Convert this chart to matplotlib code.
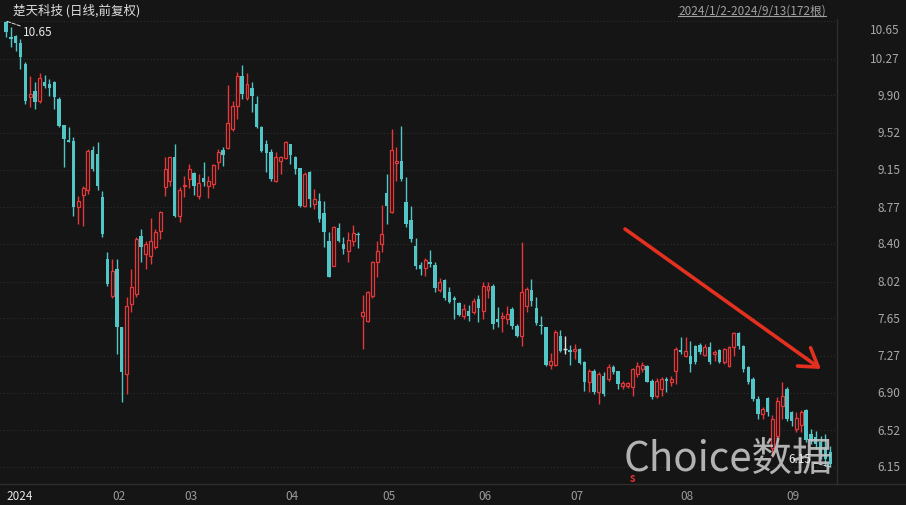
import matplotlib
matplotlib.use('Agg')
import matplotlib.pyplot as plt
from matplotlib.lines import Line2D
from matplotlib.transforms import blended_transform_factory

plt.rcParams['font.family'] = ['Noto Sans CJK SC', 'DejaVu Sans']

# daily OHLC, 2024-01-02 .. 2024-09-13 (172 bars)
opens = [10.64, 10.49, 10.50, 10.43, 10.22, 9.88, 9.94, 9.84, 10.03, 10.01,
         10.03, 9.86, 9.60, 9.45, 9.44, 8.77, 8.89, 8.94, 9.35, 9.31,
         8.87, 8.25, 7.88, 8.15, 7.56, 7.09, 7.79, 7.90, 8.48, 8.30,
         8.28, 8.37, 8.53, 8.97, 9.04, 9.28, 8.68, 8.98, 9.06, 9.12,
         8.88, 9.07, 8.99, 9.01, 9.23, 9.35, 9.37, 9.56, 9.79, 10.09,
         9.87, 9.97, 9.81, 9.58, 9.41, 9.33, 9.04, 9.24, 9.27, 9.41,
         9.28, 9.17, 8.78, 9.13, 8.80, 8.83, 8.71, 8.43, 8.18, 8.56,
         8.40, 8.33, 8.43, 8.50, 7.67, 7.62, 7.87, 8.22, 8.40, 8.91,
         8.72, 9.22, 9.24, 8.82, 8.64, 8.38, 8.19, 8.16, 8.22, 8.19,
         7.94, 8.04, 7.92, 7.85, 7.80, 7.67, 7.72, 7.71, 7.84, 7.72,
         7.94, 7.98, 7.64, 7.65, 7.64, 7.74, 7.57, 7.47, 7.77, 7.94,
         7.75, 7.58, 7.56, 7.18, 7.18, 7.47, 7.34, 7.33, 7.32, 7.34,
         7.21, 7.01, 7.12, 6.91, 7.07, 7.04, 7.16, 7.12, 6.97, 6.97,
         6.96, 7.09, 7.14, 7.17, 7.02, 6.87, 6.94, 7.04, 7.01, 7.12,
         7.33, 7.27, 7.27, 7.37, 7.38, 7.28, 7.36, 7.29, 7.33, 7.21,
         7.17, 7.36, 7.50, 7.37, 7.16, 7.04, 6.84, 6.68, 6.85, 6.34,
         6.46, 6.76, 6.94, 6.70, 6.53, 6.57, 6.72, 6.48, 6.45, 6.40,
         6.33, 6.30]
highs = [10.65, 10.59, 10.51, 10.47, 10.24, 10.10, 10.03, 10.13, 10.11, 10.06,
         10.04, 9.88, 9.60, 9.58, 9.48, 8.88, 8.99, 9.36, 9.39, 9.43,
         8.93, 8.32, 8.25, 8.25, 7.56, 7.86, 8.15, 8.47, 8.55, 8.43,
         8.66, 8.55, 8.73, 9.28, 9.28, 9.41, 8.97, 9.09, 9.21, 9.13,
         9.11, 9.23, 9.09, 9.21, 9.36, 9.38, 10.00, 9.84, 10.14, 10.21,
         10.13, 10.03, 9.89, 9.59, 9.45, 9.36, 9.33, 9.29, 9.44, 9.41,
         9.29, 9.17, 9.13, 9.14, 8.95, 8.91, 8.83, 8.52, 8.58, 8.61,
         8.47, 8.52, 8.59, 8.52, 7.89, 7.93, 8.23, 8.43, 8.79, 9.11,
         9.56, 9.38, 9.59, 9.08, 8.78, 8.46, 8.22, 8.26, 8.34, 8.22,
         8.06, 8.05, 7.97, 7.88, 7.81, 7.79, 7.78, 7.85, 7.89, 8.02,
         8.02, 8.00, 7.76, 7.71, 7.77, 7.76, 7.59, 8.42, 7.97, 8.05,
         7.86, 7.67, 7.56, 7.30, 7.53, 7.53, 7.47, 7.38, 7.39, 7.35,
         7.22, 7.14, 7.14, 7.11, 7.11, 7.19, 7.18, 7.12, 7.02, 7.01,
         7.15, 7.21, 7.21, 7.18, 7.04, 7.05, 7.06, 7.06, 7.07, 7.36,
         7.46, 7.46, 7.42, 7.38, 7.40, 7.39, 7.41, 7.33, 7.34, 7.35,
         7.37, 7.51, 7.51, 7.38, 7.17, 7.06, 6.87, 6.75, 6.86, 6.67,
         6.86, 7.01, 6.96, 6.71, 6.70, 6.72, 6.73, 6.53, 6.51, 6.46,
         6.48, 6.36]
lows = [10.49, 10.39, 10.35, 10.17, 9.81, 9.78, 9.76, 9.82, 9.97, 9.89,
        9.76, 9.58, 9.18, 9.43, 8.68, 8.60, 8.58, 8.90, 9.14, 8.94,
        8.47, 7.98, 7.85, 7.29, 6.81, 6.89, 7.71, 7.86, 8.22, 8.15,
        8.20, 8.35, 8.45, 8.88, 8.98, 8.67, 8.62, 8.87, 8.96, 8.89,
        8.85, 8.98, 8.86, 8.96, 9.16, 9.19, 9.36, 9.54, 9.66, 9.86,
        9.85, 9.73, 9.57, 9.33, 9.13, 9.04, 9.03, 9.11, 9.26, 9.21,
        9.11, 8.77, 8.77, 8.77, 8.75, 8.62, 8.37, 8.07, 8.18, 8.42,
        8.30, 8.22, 8.38, 8.36, 7.34, 7.61, 7.85, 8.07, 8.32, 8.60,
        8.71, 9.04, 9.04, 8.57, 8.42, 8.15, 8.09, 8.08, 8.17, 7.92,
        7.92, 7.83, 7.80, 7.64, 7.67, 7.64, 7.62, 7.69, 7.61, 7.64,
        7.85, 7.54, 7.56, 7.51, 7.59, 7.54, 7.46, 7.37, 7.71, 7.77,
        7.58, 7.49, 7.17, 7.14, 7.17, 7.31, 7.29, 7.18, 7.24, 7.19,
        6.92, 6.91, 6.89, 6.79, 6.87, 7.02, 7.09, 6.94, 6.94, 6.95,
        6.87, 7.06, 7.11, 7.01, 6.84, 6.85, 6.87, 6.91, 6.97, 6.99,
        7.29, 7.26, 7.11, 7.19, 7.29, 7.27, 7.19, 7.22, 7.20, 7.19,
        7.16, 7.27, 7.34, 7.11, 6.99, 6.82, 6.63, 6.63, 6.66, 6.25,
        6.40, 6.63, 6.61, 6.56, 6.50, 6.50, 6.40, 6.38, 6.33, 6.23,
        6.16, 6.15]
closes = [10.54, 10.47, 10.43, 10.29, 9.84, 9.91, 9.83, 10.07, 9.99, 9.97,
          9.88, 9.59, 9.46, 9.43, 8.77, 8.83, 8.96, 9.34, 9.16, 8.98,
          8.50, 8.00, 8.13, 7.56, 7.11, 7.77, 7.97, 8.45, 8.37, 8.40,
          8.43, 8.52, 8.72, 9.16, 9.28, 8.68, 8.94, 9.00, 9.16, 8.98,
          9.02, 9.03, 9.04, 9.20, 9.33, 9.30, 9.62, 9.79, 10.09, 9.91,
          10.01, 9.89, 9.58, 9.34, 9.32, 9.06, 9.28, 9.28, 9.43, 9.30,
          9.16, 8.78, 9.11, 8.85, 8.85, 8.65, 8.52, 8.07, 8.57, 8.43,
          8.35, 8.44, 8.51, 8.49, 7.71, 7.92, 8.22, 8.33, 8.50, 8.78,
          9.35, 9.24, 9.06, 8.60, 8.45, 8.18, 8.15, 8.24, 8.20, 7.96,
          8.02, 7.85, 7.81, 7.83, 7.68, 7.74, 7.67, 7.82, 7.75, 7.98,
          7.98, 7.59, 7.61, 7.67, 7.69, 7.57, 7.47, 7.92, 7.95, 7.82,
          7.60, 7.57, 7.18, 7.22, 7.51, 7.32, 7.34, 7.31, 7.34, 7.20,
          7.01, 7.12, 6.91, 7.09, 6.89, 7.16, 7.11, 6.99, 7.00, 7.00,
          7.14, 7.17, 7.18, 7.01, 6.86, 7.02, 7.04, 7.02, 7.04, 7.34,
          7.31, 7.32, 7.19, 7.21, 7.31, 7.36, 7.21, 7.31, 7.21, 7.34,
          7.36, 7.50, 7.37, 7.14, 7.01, 6.84, 6.68, 6.73, 6.70, 6.63,
          6.82, 6.87, 6.63, 6.61, 6.64, 6.70, 6.42, 6.41, 6.38, 6.30,
          6.23, 6.18]

month_labels = ['2024', '02', '03', '04', '05', '06', '07', '08', '09']
month_starts = [0, 22, 37, 58, 78, 98, 117, 140, 162]
price_ticks = [6.15, 6.52, 6.90, 7.27, 7.65, 8.02, 8.40, 8.77, 9.15, 9.52, 9.90, 10.27, 10.65]
title = '楚天科技 (日线,前复权)'
span_text = '2024/1/2-2024/9/13(172根)'
watermark = 'Choice数据'

BG = '#151515'
UP = '#e6383a'
DOWN = '#52c6c6'
FLAT = '#e0e0e0'
GRID = '#2e2e2e'

W, H = 906, 506
fig = plt.figure(figsize=(W / 100, H / 100), dpi=100, facecolor=BG)
ax = fig.add_axes([0, (H - 485) / H, 837 / W, 465 / H])
ax.set_facecolor(BG)
for s in ax.spines.values():
    s.set_visible(False)
ax.set_xticks([])
ax.set_yticks([])

n = len(opens)
assert len(highs) == n and len(lows) == n and len(closes) == n

# candles: red hollow = up, teal filled = down
for i in range(n):
    o, h, l, c = opens[i], highs[i], lows[i], closes[i]
    col = UP if c > o else (DOWN if c < o else FLAT)
    ax.vlines(i, l, h, color=col, lw=1, zorder=2)
    lo, hi = min(o, c), max(o, c)
    if c > o:
        ax.bar(i, hi - lo, bottom=lo, width=0.62, facecolor=BG, edgecolor=col, lw=0.9, zorder=3)
    elif c < o:
        ax.bar(i, max(hi - lo, 0.012), bottom=lo, width=0.7, color=col, lw=0, zorder=3)
    else:
        ax.hlines(o, i - 0.35, i + 0.35, color=col, lw=1, zorder=3)

ax.set_xlim(-6 / 4.82, (837 - 6) / 4.82)
ax.set_ylim(10.65 - 463 / 99.1, 10.65 + 2 / 99.1)

for v in price_ticks:
    ax.axhline(v, color=GRID, lw=0.8, ls=(0, (1, 2)), zorder=1)

# right price scale
tr = blended_transform_factory(fig.transFigure, ax.transData)
for v in price_ticks:
    yy = v - 0.09 if v == max(price_ticks) else v
    ax.text(900 / W, yy, f'{v:.2f}', transform=tr, ha='right', va='center',
            color='#a8a8a8', fontsize=8.5, clip_on=False)

# frame lines
fig.add_artist(Line2D([837 / W, 837 / W], [(H - 485) / H, 1 - 20 / H], color='#2e2e2e', lw=1))
fig.add_artist(Line2D([0, 1], [(H - 485) / H, (H - 485) / H], color='#2e2e2e', lw=1))

# month labels
tx = blended_transform_factory(ax.transData, fig.transFigure)
for lab, idx in zip(month_labels, month_starts):
    ax.text(idx, (H - 497) / H, lab, transform=tx, ha='left', va='center',
            color='#e6e6e6' if lab == '2024' else '#9a9a9a', fontsize=8.5, clip_on=False)

fig.text(13 / W, 1 - 11 / H, title, ha='left', va='center', color='#dedede', fontsize=9)
t = fig.text(826 / W, 1 - 11 / H, span_text, ha='right', va='center', color='#a0a0a0', fontsize=8.5)
fig.canvas.draw()
bb = t.get_window_extent()
fig.add_artist(Line2D([bb.x0 / W, bb.x1 / W], [(bb.y0 + 1) / H, (bb.y0 + 1) / H], color='#a0a0a0', lw=0.8))

# trend arrow
ax.annotate('', xy=(821 / 837, (485 - 370) / 465), xycoords='axes fraction',
            xytext=(625 / 837, (485 - 230) / 465), textcoords='axes fraction',
            arrowprops=dict(arrowstyle='->,head_length=0.7,head_width=0.45', color='#e3301f',
                            lw=2.6, mutation_scale=18, shrinkA=0, shrinkB=0), zorder=6)

# watermark sits over the candles, under the min marker
ax.text(728 / W, 1 - 459 / H, watermark, transform=fig.transFigure, ha='center', va='center',
        fontsize=29, color='#c4c4c4', alpha=0.9, zorder=10, clip_on=False)
ax.text(632 / W, 1 - 479 / H, 's', transform=fig.transFigure, color='#e03030', fontsize=8,
        ha='center', va='center', fontweight='bold', zorder=11, clip_on=False)

# max / min markers
imax = highs.index(max(highs))
imin = lows.index(min(lows))
ax.annotate(f'{max(highs):.2f}', xy=(imax, max(highs)), xytext=(23, H - 33), textcoords='figure pixels',
            ha='left', va='center', color='#e8e8e8', fontsize=8.5, zorder=12,
            arrowprops=dict(arrowstyle='-', ls='--', color='#dddddd', lw=0.7, shrinkA=0, shrinkB=0))
ax.annotate(f'{min(lows):.2f}', xy=(imin, min(lows)), xytext=(811, H - 460), textcoords='figure pixels',
            ha='right', va='center', color='#f0f0f0', fontsize=8.5, zorder=12,
            arrowprops=dict(arrowstyle='-', ls='--', color='#dddddd', lw=0.7, shrinkA=0, shrinkB=0))

fig.savefig('out.png', dpi=100, facecolor=BG)
